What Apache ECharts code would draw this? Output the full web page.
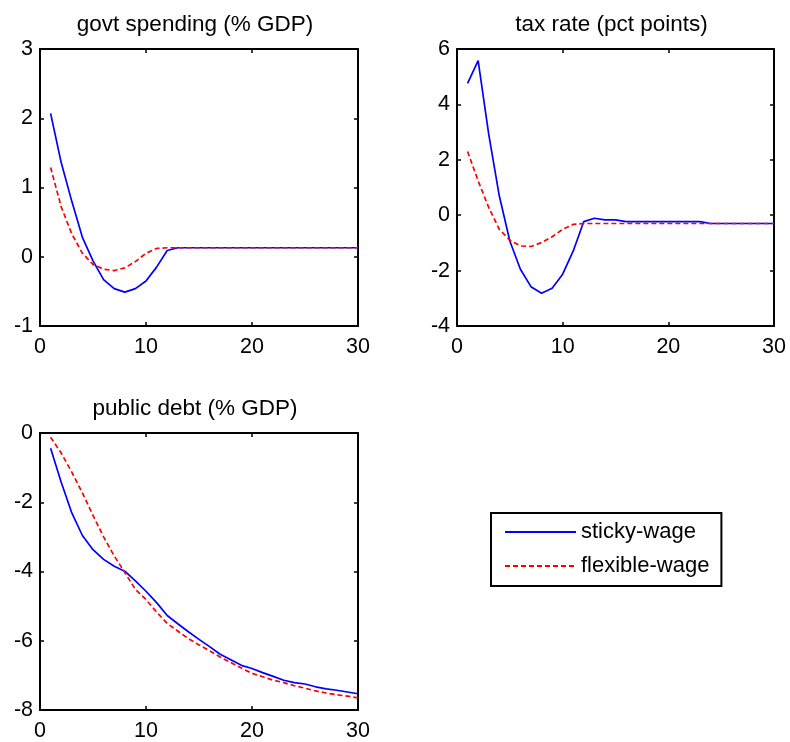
<!DOCTYPE html>
<html>
<head>
<meta charset="utf-8">
<script src="https://cdn.jsdelivr.net/npm/echarts@6/dist/echarts.min.js"></script>
<style>html,body{margin:0;padding:0;background:#fff;}#c{width:790px;height:742px;}</style>
</head>
<body>
<div id="c"></div>
<script>
var periods = [1,2,3,4,5,6,7,8,9,10,11,12,13,14,15,16,17,18,19,20,21,22,23,24,25,26,27,28,29,30];
var seriesNames = ['sticky-wage', 'flexible-wage'];
var panelTitles = ['govt spending (% GDP)', 'tax rate (pct points)', 'public debt (% GDP)'];
var xTicks = [0, 10, 20, 30];
var yTicksSpending = [-1, 0, 1, 2, 3];
var yTicksTax = [-4, -2, 0, 2, 4, 6];
var yTicksDebt = [-8, -6, -4, -2, 0];

var spendingSticky = [2.07,1.36,0.80,0.28,-0.06,-0.33,-0.46,-0.51,-0.46,-0.35,-0.15,0.09,0.13,0.13,0.13,0.13,0.13,0.13,0.13,0.13,0.13,0.13,0.13,0.13,0.13,0.13,0.13,0.13,0.13,0.13];
var spendingFlex = [1.29,0.72,0.33,0.05,-0.11,-0.18,-0.20,-0.16,-0.07,0.05,0.12,0.13,0.13,0.13,0.13,0.13,0.13,0.13,0.13,0.13,0.13,0.13,0.13,0.13,0.13,0.13,0.13,0.13,0.13,0.13];
var taxSticky = [4.76,5.58,2.93,0.70,-0.93,-1.95,-2.58,-2.82,-2.64,-2.13,-1.29,-0.23,-0.11,-0.17,-0.17,-0.23,-0.23,-0.23,-0.23,-0.23,-0.23,-0.23,-0.23,-0.30,-0.30,-0.30,-0.30,-0.30,-0.30,-0.30];
var taxFlex = [2.30,1.24,0.28,-0.51,-0.90,-1.11,-1.13,-0.99,-0.78,-0.51,-0.33,-0.30,-0.30,-0.30,-0.30,-0.30,-0.30,-0.30,-0.30,-0.30,-0.30,-0.30,-0.30,-0.30,-0.30,-0.30,-0.30,-0.30,-0.30,-0.30];
var debtSticky = [-0.44,-1.42,-2.31,-2.96,-3.37,-3.65,-3.85,-3.99,-4.27,-4.57,-4.90,-5.27,-5.51,-5.74,-5.96,-6.17,-6.39,-6.55,-6.71,-6.80,-6.92,-7.03,-7.14,-7.21,-7.25,-7.33,-7.39,-7.43,-7.48,-7.53];
var debtFlex = [-0.12,-0.58,-1.13,-1.73,-2.38,-3.00,-3.55,-4.03,-4.52,-4.81,-5.17,-5.50,-5.72,-5.94,-6.12,-6.29,-6.47,-6.63,-6.79,-6.94,-7.04,-7.14,-7.21,-7.30,-7.37,-7.45,-7.51,-7.56,-7.60,-7.65];

var FONT = '"Liberation Sans", Arial, Helvetica, sans-serif';
var grids = [
  {left: 40, top: 49, width: 318, height: 277},
  {left: 457, top: 49, width: 317, height: 277},
  {left: 40, top: 433, width: 318, height: 278}
];
var yTicksAll = [yTicksSpending, yTicksTax, yTicksDebt];
var data = [[spendingSticky, spendingFlex],[taxSticky, taxFlex],[debtSticky, debtFlex]];

function pairs(vals){ return periods.map(function(p,i){ return [p, vals[i]]; }); }

var xAxes = [], yAxes = [], series = [], titles = [];
var lineAx = {show: true, onZero: false, lineStyle: {color: '#000', width: 2}};
var tickSt = {show: true, inside: true, length: 4, lineStyle: {color: '#000', width: 1.5}};
grids.forEach(function(g, i){
  var yt = yTicksAll[i];
  var yint = yt[1] - yt[0];
  xAxes.push({type: 'value', gridIndex: i, position: 'bottom', min: xTicks[0], max: xTicks[xTicks.length-1], interval: 10,
    axisLine: lineAx, axisTick: tickSt,
    axisLabel: {color: '#000', fontSize: 21.5, fontFamily: FONT, margin: 10}, splitLine: {show: false}});
  xAxes.push({type: 'value', gridIndex: i, position: 'top', min: xTicks[0], max: xTicks[xTicks.length-1], interval: 10,
    axisLine: lineAx, axisTick: tickSt, axisLabel: {show: false}, splitLine: {show: false}});
  yAxes.push({type: 'value', gridIndex: i, position: 'left', min: yt[0], max: yt[yt.length-1], interval: yint,
    axisLine: lineAx, axisTick: tickSt,
    axisLabel: {color: '#000', fontSize: 21.5, fontFamily: FONT, margin: 7}, splitLine: {show: false}});
  yAxes.push({type: 'value', gridIndex: i, position: 'right', min: yt[0], max: yt[yt.length-1], interval: yint,
    axisLine: lineAx, axisTick: tickSt, axisLabel: {show: false}, splitLine: {show: false}});
  series.push({name: seriesNames[0], type: 'line', xAxisIndex: i*2, yAxisIndex: i*2, data: pairs(data[i][0]),
    showSymbol: false, lineStyle: {color: '#0000ff', width: 1.7}, itemStyle: {color: '#0000ff'}, z: 3, animation: false});
  series.push({name: seriesNames[1], type: 'line', xAxisIndex: i*2, yAxisIndex: i*2, data: pairs(data[i][1]),
    showSymbol: false, lineStyle: {color: '#ff0000', width: 1.7, type: [5, 3]}, itemStyle: {color: '#ff0000'}, z: 4, animation: false});
  titles.push({text: panelTitles[i], left: g.left + g.width/2 - 4, top: g.top - 36, textAlign: 'center', padding: 0,
    textStyle: {color: '#000', fontSize: 22.5, fontWeight: 'normal', fontFamily: FONT}});
});

var chart = echarts.init(document.getElementById('c'), null, {renderer: 'canvas'});
chart.setOption({
  animation: false,
  backgroundColor: '#fff',
  title: titles,
  grid: grids,
  xAxis: xAxes,
  yAxis: yAxes,
  legend: {
    data: [{name: seriesNames[0]}, {name: seriesNames[1]}],
    orient: 'vertical', left: 491, top: 513,
    borderColor: '#000', borderWidth: 2, borderRadius: 0,
    padding: [8, 12, 9, 13], itemGap: 12, itemWidth: 71, itemHeight: 14,
    itemStyle: {opacity: 0, color: 'transparent', borderWidth: 0},
    textStyle: {color: '#000', fontSize: 22, fontFamily: FONT},
    backgroundColor: '#fff'
  },
  series: series
});
</script>
</body>
</html>
